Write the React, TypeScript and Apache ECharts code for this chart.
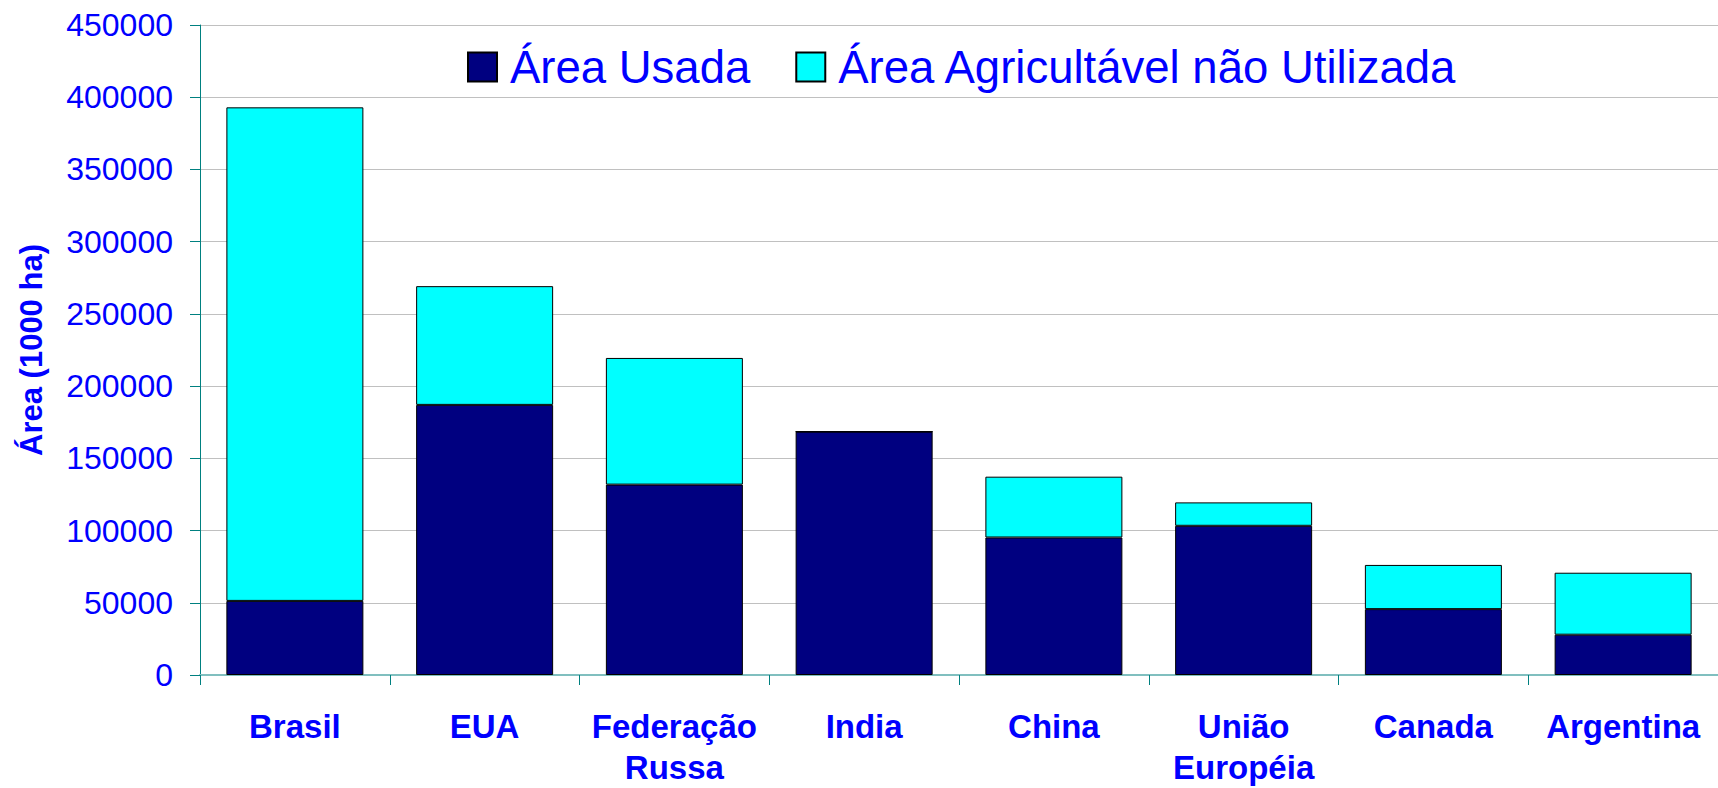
import React, { useEffect, useRef } from "react";
import * as echarts from "echarts";

const categories = ["Brasil", "EUA", "Federação\nRussa", "India", "China", "União\nEuropéia", "Canada", "Argentina"];
const usedArea = [51300, 187000, 131800, 168500, 95200, 103300, 45600, 27900];
const unusedArea = [341700, 82200, 87700, 0, 42100, 16200, 30600, 42900];
const seriesNames = ["Área Usada", "Área Agricultável não Utilizada"];
const yAxisName = "Área (1000 ha)";

const FONT = "'Liberation Sans', Arial, Helvetica, sans-serif";
const BLUE = "#0000ff";

export default function App() {
  const ref = useRef<HTMLDivElement>(null);
  useEffect(() => {
    if (!ref.current) return;
    const chart = echarts.init(ref.current, undefined, { renderer: "svg" });
    chart.setOption({
      animation: false,
      backgroundColor: "#ffffff",
      textStyle: { fontFamily: FONT },
      grid: { left: 200, top: 25, width: 1529, height: 656, containLabel: false },
      legend: {
        left: 467,
        top: 44,
        padding: 0,
        itemWidth: 29,
        itemHeight: 29,
        itemGap: 45,
        icon: "rect",
        data: seriesNames,
        textStyle: { color: BLUE, fontSize: 45.5, fontFamily: FONT, padding: [0, 0, 0, 8] },
      },
      xAxis: {
        type: "category",
        data: categories,
        axisLine: { lineStyle: { color: "#80bfbf", width: 2 } },
        axisTick: { show: true, length: 10, lineStyle: { color: "#008080", width: 1 } },
        axisLabel: {
          color: BLUE,
          fontSize: 33,
          fontWeight: "bold",
          fontFamily: FONT,
          lineHeight: 41,
          margin: 31,
          interval: 0,
        },
      },
      yAxis: {
        type: "value",
        min: 0,
        max: 450000,
        interval: 50000,
        name: yAxisName,
        nameLocation: "middle",
        nameRotate: 90,
        nameGap: 153,
        nameTextStyle: { color: BLUE, fontSize: 31, fontWeight: "bold", fontFamily: FONT },
        axisLine: { show: true, lineStyle: { color: "#008080", width: 1 } },
        axisTick: { show: true, length: 10, lineStyle: { color: "#008080", width: 1 } },
        axisLabel: {
          color: BLUE,
          fontSize: 32,
          fontFamily: FONT,
          margin: 27,
          formatter: (v: number) => String(v),
        },
        splitLine: { show: true, lineStyle: { color: "#c0c0c0", width: 1 } },
      },
      series: [
        {
          name: seriesNames[0],
          type: "bar",
          stack: "total",
          barWidth: 137,
          data: usedArea,
          itemStyle: { color: "#000080", borderColor: "#000000", borderWidth: 1 },
        },
        {
          name: seriesNames[1],
          type: "bar",
          stack: "total",
          barWidth: 137,
          data: unusedArea,
          itemStyle: { color: "#00ffff", borderColor: "#000000", borderWidth: 1 },
        },
      ],
    });
    return () => chart.dispose();
  }, []);
  return (
    <div
      ref={ref}
      style={{ position: "absolute", left: 0, top: 0, width: 1718, height: 788, overflow: "hidden" }}
    />
  );
}
